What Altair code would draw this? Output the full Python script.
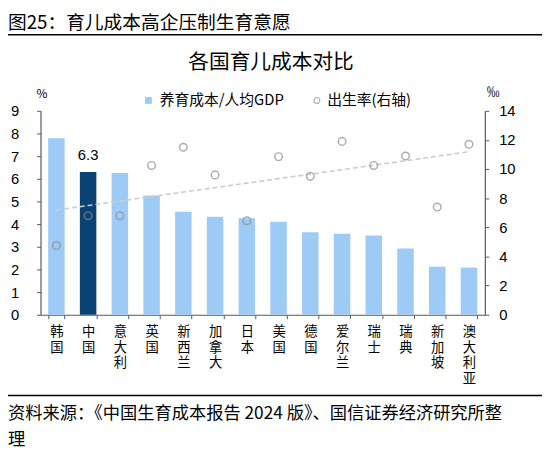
import altair as alt
import pandas as pd
import numpy as np

# ---- data ----
countries = ["韩国", "中国", "意大利", "英国", "新西兰", "加拿大", "日本",
             "美国", "德国", "爱尔兰", "瑞士", "瑞典", "新加坡", "澳大利亚"]
cost_ratio = [7.79, 6.3, 6.26, 5.26, 4.54, 4.33, 4.26, 4.10, 3.64, 3.57, 3.50, 2.92, 2.12, 2.08]
birth_rate = [4.75, 6.8, 6.8, 10.25, 11.5, 9.6, 6.45, 10.85, 9.5, 11.9, 10.25, 10.9, 7.4, 11.7]
left_ticks = list(range(0, 10))
right_ticks = list(range(0, 15, 2))
series_bar = "养育成本/人均GDP"
series_pt = "出生率(右轴)"
highlight = "中国"

header_text = "图25：育儿成本高企压制生育意愿"
title_text = "各国育儿成本对比"
source_text = "资料来源：《中国生育成本报告 2024 版》、国信证券经济研究所整\n理"

# linear trend of birth rate across the ordered countries
idx = np.arange(len(countries))
slope, intercept = np.polyfit(idx, birth_rate, 1)
trend = list(intercept + slope * idx)

df = pd.DataFrame({
    "country": countries,
    "cost": cost_ratio,
    "birth": birth_rate,
    "trend": trend,
    "s_bar": series_bar,
    "s_pt": series_pt,
})

FONT = "Noto Sans CJK SC"
NUM_FONT = "Liberation Sans Narrow, Liberation Sans, Noto Sans CJK SC"
AXIS_COLOR = "#595959"
LIGHT = "#9ecbf5"
DARK = "#0b4274"
PT_COLOR = "#8c8c8c"

W, H = 451, 207

x_enc = alt.X(
    "country:N", sort=countries,
    scale=alt.Scale(paddingInner=0.48, paddingOuter=0.24),
    axis=alt.Axis(
        title=None, labelAngle=0, labelExpr="split(datum.label, '')",
        labelFont=FONT, labelFontSize=13.5, labelLineHeight=16,
        labelBaseline="top", labelPadding=6, labelColor="#000",
        tickBand="extent", tickSize=4, tickColor=AXIS_COLOR,
        domainColor=AXIS_COLOR, domainWidth=1.2,
    ),
)

left_scale = alt.Scale(domain=[0, 9], nice=False)
left_axis = alt.Axis(
    title="%", titleAngle=0, titleX=1, titleY=-17, titleAlign="center",
    titleBaseline="middle", titleFont=FONT, titleFontSize=12,
    titleFontWeight="normal", titleColor="#000",
    values=left_ticks, grid=False, tickSize=4, tickColor=AXIS_COLOR,
    domainColor=AXIS_COLOR, domainWidth=1.2, labelPadding=18,
    labelFont=NUM_FONT, labelFontSize=15, labelColor="#000",
)
right_scale = alt.Scale(domain=[0, 14], nice=False)
right_axis = alt.Axis(
    orient="right", title="‰", titleAngle=0, titleX=8, titleY=-20,
    titleAlign="center", titleBaseline="middle", titleFont=FONT,
    titleFontSize=13, titleFontWeight="normal", titleColor="#000",
    values=right_ticks, grid=False, tickSize=4, tickColor=AXIS_COLOR,
    domainColor=AXIS_COLOR, domainWidth=1.2, labelPadding=10,
    labelFont=NUM_FONT, labelFontSize=15, labelColor="#000",
)

base = alt.Chart(df)

bars = base.mark_bar().encode(
    x=x_enc,
    y=alt.Y("cost:Q", scale=left_scale, axis=left_axis),
    color=alt.condition(
        alt.datum.country == highlight,
        alt.value(DARK),
        alt.Color("s_bar:N", scale=alt.Scale(domain=[series_bar], range=[LIGHT]),
                  legend=alt.Legend(orient="none", legendX=102, legendY=-18,
                                    title=None, symbolType="square", symbolSize=49,
                                    symbolStrokeWidth=0, labelFont=FONT,
                                    labelFontSize=15, labelColor="#000",
                                    labelOffset=4, padding=0)),
    ),
)

label = base.transform_filter(alt.datum.country == highlight).mark_text(
    dy=-17, fontSize=15, font=NUM_FONT, color="#000", baseline="middle"
).encode(
    x=x_enc,
    y=alt.Y("cost:Q", scale=left_scale, axis=left_axis),
    text=alt.Text("cost:Q", format=".1f"),
)

trend_line = base.mark_line(color="#cccccc", strokeWidth=1.6, strokeDash=[5, 3]).encode(
    x=x_enc,
    y=alt.Y("trend:Q", scale=right_scale, axis=right_axis),
)

points = base.mark_point(shape="circle", filled=False, size=60, strokeWidth=1.5).encode(
    x=x_enc,
    y=alt.Y("birth:Q", scale=right_scale, axis=right_axis),
    stroke=alt.Stroke("s_pt:N", scale=alt.Scale(domain=[series_pt], range=[PT_COLOR]),
                      legend=alt.Legend(orient="none", legendX=273, legendY=-18,
                                        title=None, symbolType="circle", symbolSize=36,
                                        symbolStrokeWidth=1.2, labelFont=FONT,
                                        labelFontSize=15, labelColor="#000",
                                        labelOffset=3, padding=0)),
)

left_layer = alt.layer(bars, label)
right_layer = alt.layer(trend_line, points)
main = alt.layer(left_layer, right_layer).resolve_scale(y="independent", color="independent")


def text_layer(t, x, y, size, align="left", line_height=None):
    kw = dict(align=align, baseline="middle", fontSize=size, font=FONT, color="#000")
    if line_height is not None:
        kw["lineBreak"] = "\n"
        kw["lineHeight"] = line_height
    return alt.Chart(pd.DataFrame({"t": [t]})).mark_text(**kw).encode(
        x=alt.value(x), y=alt.value(y), text="t:N")


def hrule(y):
    return alt.Chart(pd.DataFrame({"a": [0]})).mark_rule(color="#000", strokeWidth=1.5).encode(
        x=alt.value(-33), x2=alt.value(509), y=alt.value(y))


header = text_layer(header_text, -33, -89, 19)
title = text_layer(title_text, 234, -48, 21, align="center")
source = text_layer(source_text, -33, 308, 17.5, line_height=26)

chart = alt.layer(main, header, title, hrule(-77.3), hrule(289), source).properties(
    width=W, height=H,
    padding={"left": 33, "top": 101, "right": 58, "bottom": 139},
    autosize=alt.AutoSizeParams(type="none"),
).configure_view(stroke=None)

chart.save("out.html", embed_options={"renderer": "svg", "actions": False})
